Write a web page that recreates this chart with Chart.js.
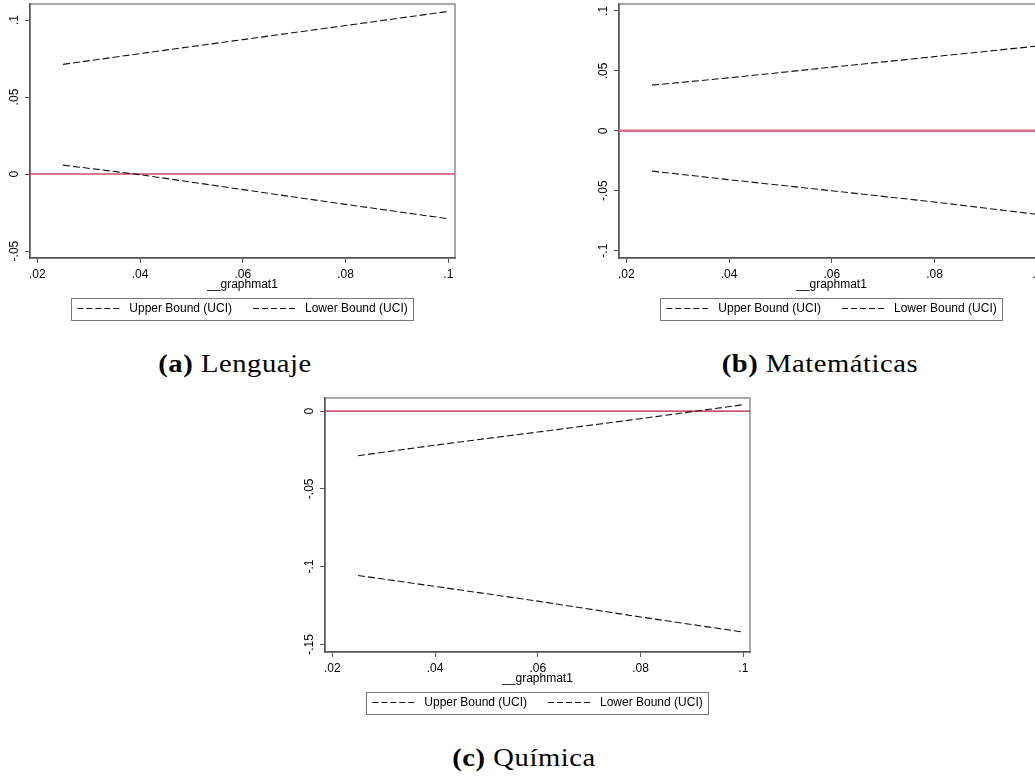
<!DOCTYPE html>
<html>
<head>
<meta charset="utf-8">
<script src="https://cdn.jsdelivr.net/npm/chart.js@4.4.1/dist/chart.umd.min.js"></script>
<style>
  html, body { margin: 0; padding: 0; width: 1035px; height: 777px; overflow: hidden; background: #fff; }
  .panel { position: absolute; }
  .cap { position: absolute; width: 400px; text-align: center; font-family: "Liberation Serif", serif;
         font-size: 26px; line-height: 26px; color: #000; white-space: nowrap; letter-spacing: 0.5px;
         transform: scaleX(1.1); transform-origin: 50% 50%; }
  .cap b { font-weight: bold; }
</style>
</head>
<body>
<canvas id="chartA" class="panel" width="470" height="330" style="left:0px;top:0px"></canvas>
<canvas id="chartB" class="panel" width="470" height="330" style="left:589px;top:0px"></canvas>
<canvas id="chartC" class="panel" width="470" height="330" style="left:295px;top:394px"></canvas>
<div class="cap" style="left:35px;top:351px"><b>(a)</b> Lenguaje</div>
<div class="cap" style="left:620px;top:351px"><b>(b)</b> Matemáticas</div>
<div class="cap" style="left:324px;top:745px"><b>(c)</b> Química</div>

<script>
// x grid shared by all three panels
const xValues = [0.025, 0.04, 0.06, 0.08, 0.1];
const xTicks = [0.02, 0.04, 0.06, 0.08, 0.1];
const xTickLabels = ['.02', '.04', '.06', '.08', '.1'];
const xTitle = '__graphmat1';
const seriesLabels = ['Upper Bound (UCI)', 'Lower Bound (UCI)'];
const zeroRef = 0;

// (a) Lenguaje
const upperA = [0.0712, 0.0782, 0.0873, 0.0964, 0.1056];
const lowerA = [0.0058, -0.0004, -0.0101, -0.0197, -0.0290];
const yTicksA = [-0.05, 0, 0.05, 0.1];
const yTickLabelsA = ['-.05', '0', '.05', '.1'];

// (b) Matemáticas
const upperB = [0.0381, 0.0442, 0.0531, 0.0619, 0.0707];
const lowerB = [-0.0336, -0.0408, -0.0500, -0.0594, -0.0697];
const yTicksB = [-0.1, -0.05, 0, 0.05, 0.1];
const yTickLabelsB = ['-.1', '-.05', '0', '.05', '.1'];

// (c) Química
const upperC = [-0.0287, -0.0219, -0.0135, -0.0049, 0.0041];
const lowerC = [-0.1057, -0.1127, -0.1222, -0.1324, -0.1421];
const yTicksC = [-0.15, -0.1, -0.05, 0];
const yTickLabelsC = ['-.15', '-.1', '-.05', '0'];

const SANS = '"Liberation Sans", Arial, sans-serif';

// light frame around the plot region, drawn before the axes
const framePlugin = {
  id: 'frame',
  beforeDraw(chart) {
    const { ctx, chartArea: a } = chart;
    ctx.save();
    ctx.strokeStyle = '#aaaaaa';
    ctx.lineWidth = 2;
    ctx.strokeRect(a.left, a.top, a.right - a.left, a.bottom - a.top);
    ctx.restore();
  }
};

// horizontal reference line at y = 0
const zeroLinePlugin = {
  id: 'zeroLine',
  beforeDatasetsDraw(chart, args, opts) {
    const { ctx, chartArea: a } = chart;
    const y = chart.scales.y.getPixelForValue(zeroRef);
    ctx.save();
    ctx.strokeStyle = opts.color;
    ctx.lineWidth = opts.width;
    ctx.beginPath();
    ctx.moveTo(a.left, y);
    ctx.lineTo(a.right, y);
    ctx.stroke();
    ctx.restore();
  }
};

// vertical tick labels on the y axis, x-axis title and boxed legend
const annotatePlugin = {
  id: 'annotate',
  afterDraw(chart, args, opts) {
    const { ctx, chartArea: a } = chart;
    const ys = chart.scales.y;
    ctx.save();
    ctx.fillStyle = '#000';
    ctx.font = '12px ' + SANS;

    // y tick labels, rotated 90 degrees
    opts.yTicks.forEach((v, i) => {
      const py = ys.getPixelForValue(v);
      ctx.save();
      ctx.translate(a.left - 12, py);
      ctx.rotate(-Math.PI / 2);
      ctx.textAlign = 'center';
      ctx.textBaseline = 'alphabetic';
      ctx.fillText(opts.yLabels[i], 0, 0);
      ctx.restore();
    });

    // x axis title
    const cx = (a.left + a.right) / 2;
    ctx.textAlign = 'center';
    ctx.textBaseline = 'middle';
    ctx.fillText(xTitle, cx, a.bottom + 26.5);

    // legend
    const sample = 43, gapText = 9, gapItem = 21, margin = 6;
    const sets = chart.data.datasets;
    const widths = sets.map(d => ctx.measureText(d.label).width);
    let total = 0;
    widths.forEach((w, i) => { total += sample + gapText + w + (i ? gapItem : 0); });
    const boxW = total + 2 * margin, boxH = 21.6;
    const bx = cx - boxW / 2, by = a.bottom + 39.5;
    ctx.strokeStyle = '#777';
    ctx.lineWidth = 1;
    ctx.strokeRect(Math.round(bx) + 0.5, Math.round(by) + 0.5, Math.round(boxW), Math.round(boxH));
    let x = bx + margin;
    const my = by + boxH / 2;
    sets.forEach((d, i) => {
      if (i) x += gapItem;
      ctx.save();
      ctx.strokeStyle = d.borderColor;
      ctx.lineWidth = 1;
      ctx.setLineDash([6, 3]);
      ctx.beginPath();
      ctx.moveTo(x, Math.round(my) + 0.5);
      ctx.lineTo(x + sample, Math.round(my) + 0.5);
      ctx.stroke();
      ctx.restore();
      x += sample + gapText;
      ctx.textAlign = 'left';
      ctx.fillText(d.label, x, my + 0.5);
      x += widths[i];
    });
    ctx.restore();
  }
};

function makePanel(id, upper, lower, yMin, yMax, yTicks, yLabels, zeroColor, zeroWidth) {
  const pts = arr => xValues.map((x, i) => ({ x: x, y: arr[i] }));
  const lineStyle = {
    borderColor: '#111',
    borderWidth: 1.1,
    borderDash: [7, 3],
    pointRadius: 0,
    fill: false,
    tension: 0
  };
  return new Chart(document.getElementById(id), {
    type: 'line',
    data: {
      datasets: [
        Object.assign({ label: seriesLabels[0], data: pts(upper) }, lineStyle),
        Object.assign({ label: seriesLabels[1], data: pts(lower) }, lineStyle)
      ]
    },
    options: {
      responsive: false,
      animation: false,
      devicePixelRatio: 1,
      layout: { padding: { left: 0, top: 4, right: 15, bottom: 42 } },
      plugins: {
        legend: { display: false },
        tooltip: { enabled: false },
        zeroLine: { color: zeroColor, width: zeroWidth },
        annotate: { yTicks: yTicks, yLabels: yLabels }
      },
      scales: {
        x: {
          type: 'linear',
          min: 0.01857,
          max: 0.1013,
          afterBuildTicks: s => { s.ticks = xTicks.map(v => ({ value: v })); },
          afterFit: s => { s.height = 30; },
          ticks: {
            autoSkip: false,
            maxRotation: 0,
            padding: 4,
            color: '#000',
            font: { family: SANS, size: 12 },
            callback: (v, i) => xTickLabels[i]
          },
          grid: { display: true, drawOnChartArea: false, drawTicks: true, tickLength: 5, color: '#555', lineWidth: 1 },
          border: { display: true, color: '#555', width: 1.5 }
        },
        y: {
          type: 'linear',
          min: yMin,
          max: yMax,
          afterBuildTicks: s => { s.ticks = yTicks.map(v => ({ value: v })); },
          afterFit: s => { s.width = 30; },
          ticks: { display: false },
          grid: { display: true, drawOnChartArea: false, drawTicks: true, tickLength: 5, color: '#555', lineWidth: 1 },
          border: { display: true, color: '#555', width: 1.5 }
        }
      }
    },
    plugins: [framePlugin, zeroLinePlugin, annotatePlugin]
  });
}

makePanel('chartA', upperA, lowerA, -0.0545, 0.1104, yTicksA, yTickLabelsA, '#cc4a6a', 1.5);
makePanel('chartB', upperB, lowerB, -0.1061, 0.1058, yTicksB, yTickLabelsB, '#dc6d86', 2.5);
makePanel('chartC', upperC, lowerC, -0.1549, 0.0084, yTicksC, yTickLabelsC, '#c4143a', 1.2);
</script>
</body>
</html>
